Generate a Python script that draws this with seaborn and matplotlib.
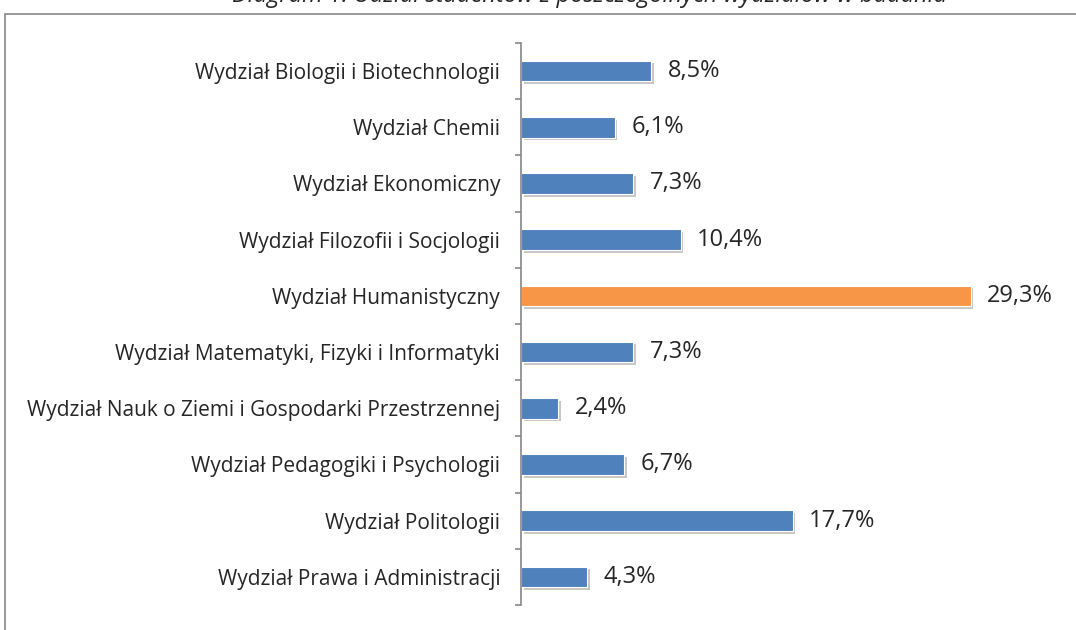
import numpy as np
import pandas as pd
import seaborn as sns
import matplotlib.pyplot as plt
import matplotlib.patheffects as pe
from matplotlib.patches import Rectangle
from matplotlib.ticker import FixedLocator

wydzialy = [
    "Wydział Biologii i Biotechnologii",
    "Wydział Chemii",
    "Wydział Ekonomiczny",
    "Wydział Filozofii i Socjologii",
    "Wydział Humanistyczny",
    "Wydział Matematyki, Fizyki i Informatyki",
    "Wydział Nauk o Ziemi i Gospodarki Przestrzennej",
    "Wydział Pedagogiki i Psychologii",
    "Wydział Politologii",
    "Wydział Prawa i Administracji",
]
udzial = [8.5, 6.1, 7.3, 10.4, 29.3, 7.3, 2.4, 6.7, 17.7, 4.3]
etykiety = ["8,5%", "6,1%", "7,3%", "10,4%", "29,3%", "7,3%", "2,4%", "6,7%", "17,7%", "4,3%"]
tytul = "Diagram 1. Udział studentów z poszczególnych wydziałów w badaniu"

blue = "#4F81BD"
orange = "#F79646"
kolory = [orange if v == max(udzial) else blue for v in udzial]

sns.set_style("white")
plt.rcParams['font.family'] = ['Open Sans', 'DejaVu Sans']

df = pd.DataFrame({"wydzial": wydzialy, "udzial": udzial})

fig = plt.figure(figsize=(10.76, 6.3), dpi=100)
ax = fig.add_axes([521/1076, 1-605/630, 537/1076, 562/630])

sns.barplot(data=df, x="udzial", y="wydzial", hue="wydzial", palette=kolory,
            legend=False, orient="h", width=0.37, ax=ax, saturation=1)

# miekki cien pod slupkami
shadow = [pe.SimplePatchShadow(offset=(2, -2), shadow_rgbFace='#b0b0b0', alpha=0.7), pe.Normal()]
for p in ax.patches:
    p.set_edgecolor('white')
    p.set_linewidth(0.8)
    p.set_path_effects(shadow)

for i, (v, t) in enumerate(zip(udzial, etykiety)):
    ax.annotate(t, xy=(v, i), xytext=(12, 0), textcoords='offset points',
                va='center', ha='left', fontsize=17)

ax.set_xlim(0, 35)
ax.set_ylim(9.5, -0.5)
ax.set_xlabel("")
ax.set_ylabel("")
ax.set_xticks([])
for s in ['top', 'right', 'bottom']:
    ax.spines[s].set_visible(False)
ax.spines['left'].set_color('#868686')
ax.spines['left'].set_linewidth(1.2)
ax.yaxis.set_minor_locator(FixedLocator(np.arange(-0.5, 10, 1)))
ax.tick_params(axis='y', which='major', length=0, pad=15, labelsize=15)
ax.tick_params(axis='y', which='minor', left=True, length=4, width=1.2, color='#868686')

fig.patches.append(Rectangle((5/1076, -0.1), 1.2, 1.1 - 14/630, transform=fig.transFigure,
                             fill=False, edgecolor='#888888', linewidth=1.2))
fig.text(590/1076, 1 - 2/630, tytul, ha='center', va='baseline', fontsize=17, style='italic')

fig.savefig("out.png", dpi=100)
